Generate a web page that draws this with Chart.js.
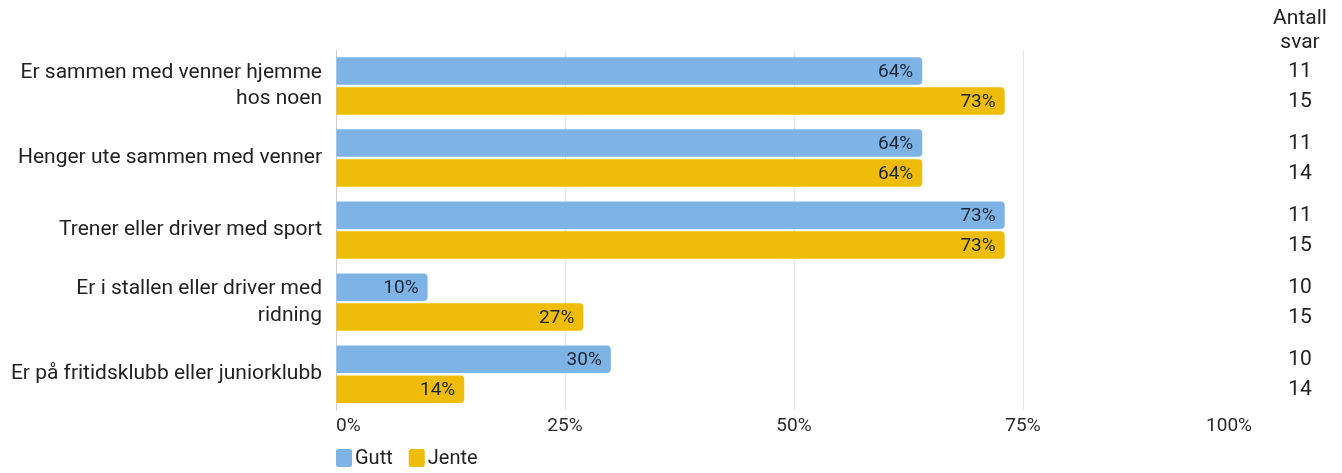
<!DOCTYPE html>
<html>
<head>
<meta charset="utf-8">
<script src="https://cdn.jsdelivr.net/npm/chart.js@4"></script>
<style>
  body { margin: 0; background: #fff; }
  #wrap { width: 1342px; height: 473px; }
</style>
</head>
<body>
<div id="wrap"><canvas id="kvarChart"></canvas></div>
<script>
// data
var categories = [
	['Er sammen med venner hjemme', 'hos noen'],
	'Henger ute sammen med venner',
	'Trener eller driver med sport',
	['Er i stallen eller driver med', 'ridning'],
	'Er på fritidsklubb eller juniorklubb'
];
var gutt = [64, 64, 73, 10, 30];
var jente = [73, 64, 73, 27, 14];
var guttAntall = [11, 11, 11, 10, 10];
var jenteAntall = [15, 14, 15, 15, 14];
var xTicks = [0, 25, 50, 75, 100];

var blue = 'rgb(126, 179, 230)';
var yellow = 'rgb(240, 188, 10)';
var fontFam = 'Roboto, "Noto Sans", sans-serif';

// percent labels inside bar end + "Antall svar" column
var labelPlugin = {
	id: 'labelPlugin',
	afterDatasetsDraw: function (chart) {
		var ctx = chart.ctx;
		ctx.save();
		ctx.textBaseline = 'middle';
		chart.data.datasets.forEach(function (ds, i) {
			var meta = chart.getDatasetMeta(i);
			meta.data.forEach(function (bar, j) {
				ctx.font = '19px ' + fontFam;
				ctx.fillStyle = '#1a2633';
				ctx.textAlign = 'right';
				ctx.fillText(ds.data[j] + '%', bar.x - 9, bar.y + 1);
				// antall svar
				ctx.font = '21px ' + fontFam;
				ctx.fillStyle = '#222';
				ctx.textAlign = 'center';
				ctx.fillText(ds.antall[j], 1300, bar.y + 1);
			});
		});
		ctx.font = '21px ' + fontFam;
		ctx.fillStyle = '#222';
		ctx.textAlign = 'center';
		ctx.fillText('Antall', 1300, 19);
		ctx.fillText('svar', 1300, 43);
		ctx.restore();
	},
	afterDraw: function (chart) {
		// legend under the chart, starting at the axis
		var ctx = chart.ctx;
		var x = chart.chartArea.left;
		var y = 458;
		ctx.save();
		ctx.font = '20px ' + fontFam;
		ctx.textBaseline = 'middle';
		ctx.textAlign = 'left';
		chart.data.datasets.forEach(function (ds) {
			ctx.fillStyle = ds.backgroundColor;
			ctx.beginPath();
			ctx.roundRect(x, y - 9, 16, 18, 2);
			ctx.fill();
			ctx.fillStyle = '#222';
			ctx.fillText(ds.label, x + 19, y + 1);
			x += 19 + ctx.measureText(ds.label).width + 16;
		});
		ctx.restore();
	}
};

var ctx = document.getElementById('kvarChart').getContext('2d');
var kvarChart = new Chart(ctx, {
	type: 'bar',
	data: {
		labels: categories,
		datasets: [{
			label: 'Gutt',
			data: gutt,
			antall: guttAntall,
			backgroundColor: blue,
			borderRadius: 4,
			borderSkipped: 'start'
		}, {
			label: 'Jente',
			data: jente,
			antall: jenteAntall,
			backgroundColor: yellow,
			borderRadius: 4,
			borderSkipped: 'start'
		}]
	},
	options: {
		indexAxis: 'y',
		responsive: true,
		maintainAspectRatio: false,
		animation: false,
		categoryPercentage: 0.83,
		barPercentage: 0.92,
		layout: {
			padding: { top: 50, right: 90, bottom: 30, left: 0 }
		},
		scales: {
			x: {
				min: 0,
				max: 100,
				afterBuildTicks: function (scale) {
					scale.ticks = xTicks.map(function (v) { return { value: v }; });
				},
				grid: {
					color: function (c) {
						return c.tick && c.tick.value === 100 ? 'rgba(0,0,0,0)' : '#e3e3e3';
					},
					drawTicks: false
				},
				border: { display: false },
				ticks: {
					align: 'inner',
					padding: 5,
					color: '#2a2a2a',
					font: { family: fontFam, size: 19 },
					callback: function (v) { return v + '%'; }
				}
			},
			y: {
				afterFit: function (scale) { scale.width = 336; },
				grid: { display: false, drawTicks: false },
				border: { display: true, color: '#cfcfcf' },
				ticks: {
					padding: 14,
					color: '#222',
					font: { family: fontFam, size: 21, lineHeight: 1.25 }
				}
			}
		},
		plugins: {
			legend: { display: false },
			tooltip: { enabled: false }
		}
	},
	plugins: [labelPlugin]
});
</script>
</body>
</html>
